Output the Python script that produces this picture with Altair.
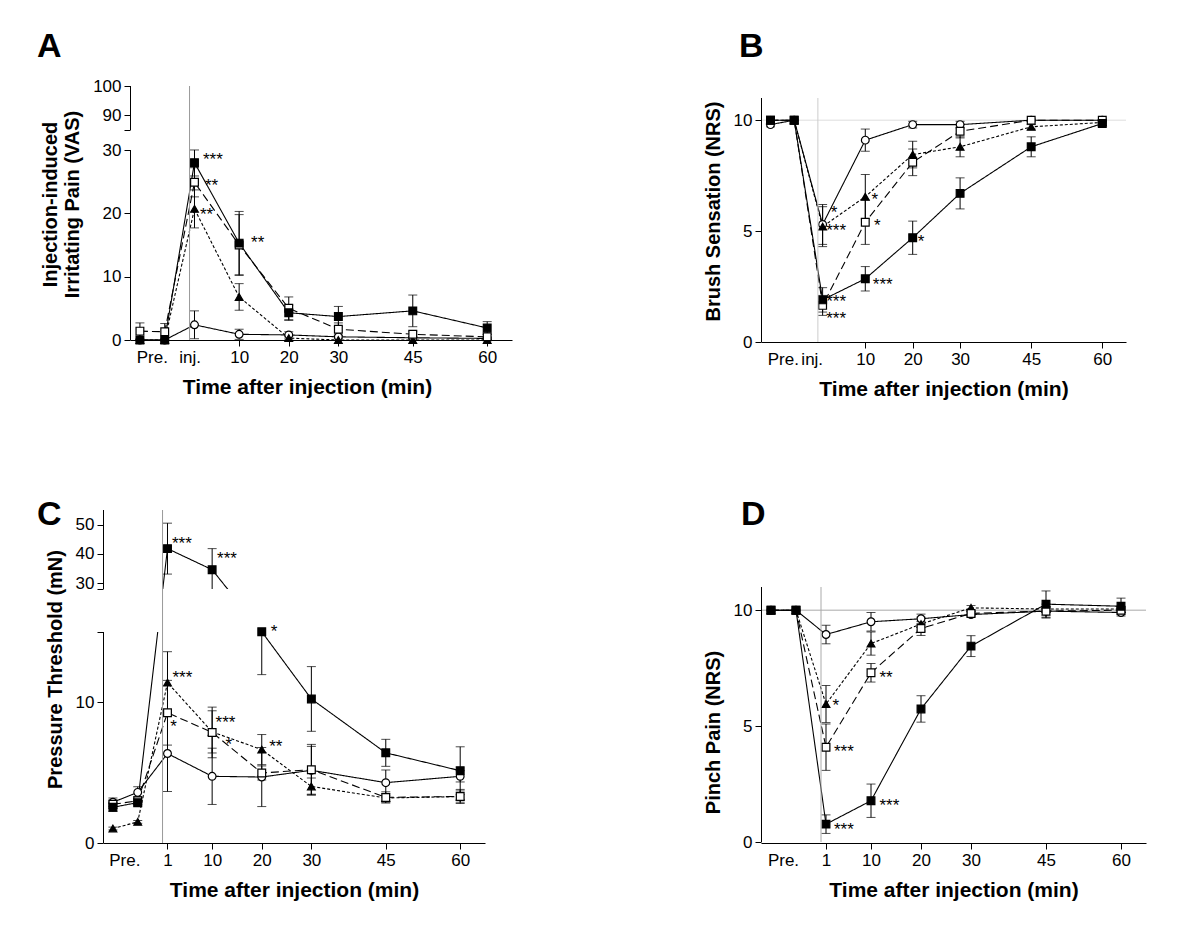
import altair as alt
import pandas as pd

TIMES = [-10, -5, 1, 10, 20, 30, 45, 60]
GROUPS = ["open circle", "filled triangle", "open square", "filled square"]
SHAPES = ["circle", "triangle-up", "square", "square"]
FILLS = ["white", "black", "white", "black"]
DASHES = [[1, 0], [3, 2], [8, 4], [1, 0]]

# ---------------- Panel A : injection-induced irritating pain (VAS)
A_CIRCLE = [0, 0, 2.4, 0.9, 0.8, 0.5, 0.35, 0.25]
A_CIRCLE_ERR = [0, 0, 2.2, 0.8, 0.5, 0.3, 0.2, 0.2]
A_TRIANGLE = [0, 0, 20.7, 6.8, 0.3, 0, 0, 0]
A_TRIANGLE_ERR = [0, 0, 3.0, 2.1, 0.3, 0, 0, 0]
A_OPEN_SQ = [1.4, 1.3, 24.9, 15.0, 5.0, 1.7, 0.9, 0.5]
A_OPEN_SQ_ERR = [1.3, 1.3, 2.3, 4.8, 1.8, 1.0, 0.5, 0.4]
A_FILLED_SQ = [0, 0, 28.0, 15.3, 4.3, 3.7, 4.6, 1.9]
A_FILLED_SQ_ERR = [0, 0, 2.1, 5.0, 1.2, 1.6, 2.5, 1.0]
A_STAR_T = [2.7, 3.1, 2.1, 12.4]
A_STAR_V = [29.05, 25.0, 20.3, 15.9]
A_STAR_TXT = ["***", "**", "**", "**"]

# ---------------- Panel B : brush sensation (NRS)
B_CIRCLE = [9.8, 10, 5.3, 9.1, 9.8, 9.8, 10, 10]
B_CIRCLE_ERR = [0.1, 0, 0.9, 0.5, 0.15, 0.15, 0, 0]
B_TRIANGLE = [10, 10, 5.2, 6.55, 8.45, 8.8, 9.7, 9.9]
B_TRIANGLE_ERR = [0, 0, 0.9, 1.0, 0.6, 0.45, 0.1, 0]
B_OPEN_SQ = [10, 10, 1.65, 5.4, 8.1, 9.5, 10, 10]
B_OPEN_SQ_ERR = [0, 0, 0.45, 1.0, 0.6, 0.3, 0, 0]
B_FILLED_SQ = [10, 10, 1.9, 2.85, 4.7, 6.7, 8.8, 9.85]
B_FILLED_SQ_ERR = [0, 0, 0.55, 0.55, 0.75, 0.7, 0.45, 0.1]
B_STAR_T = [2.7, 1.75, 1.75, 1.75, 11.3, 11.85, 21.05, 11.6]
B_STAR_V = [6.0, 5.2, 2.0, 1.2, 6.6, 5.4, 4.67, 2.77]
B_STAR_TXT = ["*", "***", "***", "***", "*", "*", "*", "***"]

# ---------------- Panel C : pressure threshold (mN)
C_CIRCLE = [2.9, 3.6, 6.36, 4.74, 4.69, 5.17, 4.29, 4.74]
C_CIRCLE_ERR = [0.3, 0.4, 2.7, 2.0, 2.1, 1.7, 0.9, 0.4]
C_TRIANGLE = [1.03, 1.5, 11.4, 7.9, 6.64, 4.02, 3.2, 3.3]
C_TRIANGLE_ERR = [0.1, 0.1, 2.2, 1.5, 1.07, 0.6, 0.3, 0.4]
C_OPEN_SQ = [2.75, 3.0, 9.26, 7.86, 4.98, 5.21, 3.24, 3.31]
C_OPEN_SQ_ERR = [0.3, 0.3, 2.3, 1.8, 0.5, 1.8, 0.4, 0.5]
C_FILLED_SQ = [2.54, 2.87, 41.8, 34.6, 15.07, 10.24, 6.41, 5.14]
C_FILLED_SQ_ERR = [0.3, 0.3, 8.7, 7.2, 3.1, 2.3, 0.96, 1.7]
C_STAR_T = [1.9, 11.0, 21.8, 2.0, 1.55, 10.7, 12.7, 21.5]
C_STAR_V = [44.8, 39.7, 16.2, 12.0, 8.5, 8.8, 7.24, 7.12]
C_STAR_TXT = ["***", "***", "*", "***", "*", "***", "*", "**"]

# ---------------- Panel D : pinch pain (NRS)
D_CIRCLE = [10, 10, 8.95, 9.5, 9.63, 9.81, 9.96, 9.9]
D_CIRCLE_ERR = [0, 0, 0.4, 0.4, 0.2, 0.1, 0.3, 0.15]
D_TRIANGLE = [10, 10, 5.95, 8.56, 9.4, 10.1, 10.05, 10.05]
D_TRIANGLE_ERR = [0, 0, 0.8, 0.5, 0.3, 0.1, 0.1, 0.1]
D_OPEN_SQ = [10, 10, 4.09, 7.3, 9.21, 9.86, 9.96, 10.0]
D_OPEN_SQ_ERR = [0, 0, 1.0, 0.4, 0.3, 0.1, 0.2, 0.1]
D_FILLED_SQ = [10, 10, 0.77, 1.78, 5.74, 8.45, 10.26, 10.17]
D_FILLED_SQ_ERR = [0, 0, 0.4, 0.72, 0.57, 0.45, 0.57, 0.35]
D_STAR_T = [2.3, 2.6, 2.6, 11.7, 11.7]
D_STAR_V = [6.05, 4.07, 0.7, 7.24, 1.71]
D_STAR_TXT = ["*", "***", "***", "**", "***"]

X_TITLE = "Time after injection (min)"
FONT = "Liberation Sans"


def series_frame(values, errors):
    rows = []
    for g, vals, errs in zip(GROUPS, values, errors):
        for t, v, e in zip(TIMES, vals, errs):
            rows.append({"group": g, "gi": GROUPS.index(g), "t": t, "v": v, "e": e,
                         "lo": v - e, "hi": v + e})
    return pd.DataFrame(rows)


def build_panel(df, stars, plot_width, height, y_domain, y_range, y_ticks, y_hidden,
                y_title, y_title_y, x_ticks, segments, letter, letter_xy,
                vline_top, vline_color, hline_color=None, gap=None, x_title_x=None,
                x_shift=0):
    width = plot_width + x_shift
    x_scale = alt.Scale(domain=[-12, 65], range=[x_shift, width], nice=False, zero=False)
    y_scale = alt.Scale(domain=y_domain, range=y_range, nice=False, zero=False)
    hidden_test = " || ".join(f"datum.value == {h}" for h in y_hidden) if y_hidden else "false"
    x_kw = dict(
        values=x_ticks,
        labelExpr="datum.value < -5 ? 'Pre.' : (datum.value < 1 ? 'inj.' : datum.label)",
        title=X_TITLE, titleFontSize=21, titleFontWeight="bold", titleColor="black",
        labelFontSize=17, labelColor="black", labelPadding=3, titlePadding=11,
        tickSize=6, tickColor={"condition": {"test": "datum.value < 1", "value": "transparent"},
                               "value": "black"},
        domainColor="black", grid=False, labelFlush=False, labelOverlap=False,
    )
    if x_title_x is not None:
        x_kw["titleX"] = x_title_x
    x_axis = alt.Axis(**x_kw)
    y_kw = dict(
        values=y_ticks, labelExpr=f"({hidden_test}) ? '' : datum.label",
        domain=False, title=y_title, titleFontSize=20, titleFontWeight="bold",
        titleColor="black", titleY=y_title_y, labelFontSize=17, labelColor="black",
        labelPadding=3, titlePadding=10, tickSize=6, tickColor="black",
        grid=False, labelFlush=False, labelOverlap=False,
    )
    if x_shift:
        y_kw["offset"] = -x_shift
    y_axis = alt.Axis(**y_kw)

    def X(field):
        return alt.X(field, type="quantitative", scale=x_scale, axis=x_axis)

    def Y(field):
        return alt.Y(field, type="quantitative", scale=y_scale, axis=y_axis)

    base = alt.Chart(df)
    layers = []

    if hline_color is not None:
        hdf = pd.DataFrame({"x0": [-12], "x1": [65], "v": [10]})
        layers.append(alt.Chart(hdf).mark_rule(color=hline_color, strokeWidth=1).encode(
            x=X("x0"), x2="x1", y=Y("v")))

    lines = base.mark_line(color="black", strokeWidth=1.1).encode(
        x=X("t"), y=Y("v"),
        strokeDash=alt.StrokeDash("group:N", scale=alt.Scale(domain=GROUPS, range=DASHES), legend=None),
        detail="group:N",
    )
    layers.append(lines)

    err = base.transform_filter("datum.e > 0")
    layers.append(err.mark_rule(color="black", strokeWidth=1).encode(x=X("t"), y=Y("lo"), y2="hi"))
    layers.append(err.mark_tick(orient="horizontal", color="black", size=9, thickness=1).encode(x=X("t"), y=Y("lo")))
    layers.append(err.mark_tick(orient="horizontal", color="black", size=9, thickness=1).encode(x=X("t"), y=Y("hi")))

    if gap is not None:
        gdf = pd.DataFrame({"lo": [gap[0]], "hi": [gap[1]]})
        layers.append(alt.Chart(gdf).mark_rect(color="white", opacity=1).encode(
            x=alt.value(x_shift + 1), x2=alt.value(width), y=Y("lo"), y2="hi"))

    points = base.mark_point(filled=True, stroke="black", strokeWidth=1.2, opacity=1, size=60).encode(
        x=X("t"), y=Y("v"),
        shape=alt.Shape("group:N", scale=alt.Scale(domain=GROUPS, range=SHAPES), legend=None),
        fill=alt.Fill("group:N", scale=alt.Scale(domain=GROUPS, range=FILLS), legend=None),
        order=alt.Order("gi:Q"),
    )
    layers.append(points)

    vdf = pd.DataFrame({"t": [0], "lo": [0], "hi": [vline_top]})
    layers.append(alt.Chart(vdf).mark_rule(color=vline_color, strokeWidth=1).encode(
        x=X("t"), y=Y("lo"), y2="hi"))

    sdf = pd.DataFrame({"lo": [s[0] for s in segments], "hi": [s[1] for s in segments]})
    layers.append(alt.Chart(sdf).mark_rule(color="black", strokeWidth=1).encode(
        x=alt.value(x_shift + 0.5), y=Y("lo"), y2="hi"))

    star_df = pd.DataFrame({"t": stars[0], "v": stars[1], "txt": stars[2]})
    layers.append(alt.Chart(star_df).mark_text(
        align="left", baseline="alphabetic", dy=9, fontSize=17, font=FONT, color="black"
    ).encode(x=X("t"), y=Y("v"), text="txt:N"))

    ldf = pd.DataFrame({"label": [letter]})
    layers.append(alt.Chart(ldf).mark_text(
        align="left", baseline="alphabetic", fontSize=34, fontWeight="bold", font=FONT, color="black"
    ).encode(x=alt.value(letter_xy[0]), y=alt.value(letter_xy[1]), text="label:N"))

    return alt.layer(*layers).properties(width=width, height=height)


panel_a = build_panel(
    series_frame([A_CIRCLE, A_TRIANGLE, A_OPEN_SQ, A_FILLED_SQ],
                 [A_CIRCLE_ERR, A_TRIANGLE_ERR, A_OPEN_SQ_ERR, A_FILLED_SQ_ERR]),
    (A_STAR_T, A_STAR_V, A_STAR_TXT), 382, 254,
    [0, 30, 85, 100], [254, 64, 44, 0], [0, 10, 20, 30, 85, 90, 100], [85],
    ["Injection-induced", "Irritating Pain (VAS)"], 118,
    [-7.6, 0, 10, 20, 30, 45, 60], [(0, 30), (85, 100)], "A", (-66, -29),
    100, "#999999", x_title_x=204, x_shift=27,
)

panel_b = build_panel(
    series_frame([B_CIRCLE, B_TRIANGLE, B_OPEN_SQ, B_FILLED_SQ],
                 [B_CIRCLE_ERR, B_TRIANGLE_ERR, B_OPEN_SQ_ERR, B_FILLED_SQ_ERR]),
    (B_STAR_T, B_STAR_V, B_STAR_TXT), 365, 256,
    [0, 11], [256, 12], [0, 5, 10], [],
    "Brush Sensation (NRS)", 125,
    [-7.4, -1.3, 10, 20, 30, 45, 60], [(0, 11)], "B", (-22, -29),
    11, "#cccccc", hline_color="#dddddd",
)

panel_c = build_panel(
    series_frame([C_CIRCLE, C_TRIANGLE, C_OPEN_SQ, C_FILLED_SQ],
                 [C_CIRCLE_ERR, C_TRIANGLE_ERR, C_OPEN_SQ_ERR, C_FILLED_SQ_ERR]),
    (C_STAR_T, C_STAR_V, C_STAR_TXT), 382, 333,
    [0, 15, 28, 55], [333, 122, 79, 0], [0, 10, 15, 28, 30, 40, 50], [15, 28],
    "Pressure Threshold (mN)", 159,
    [-7.7, 1, 10, 20, 30, 45, 60], [(0, 15), (28, 55)], "C", (-66, 15),
    55, "#999999", gap=(15, 28),
)

panel_d = build_panel(
    series_frame([D_CIRCLE, D_TRIANGLE, D_OPEN_SQ, D_FILLED_SQ],
                 [D_CIRCLE_ERR, D_TRIANGLE_ERR, D_OPEN_SQ_ERR, D_FILLED_SQ_ERR]),
    (D_STAR_T, D_STAR_V, D_STAR_TXT), 385, 333,
    [0, 11], [332, 77], [0, 5, 10], [],
    "Pinch Pain (NRS)", 222,
    [-7.6, 1, 10, 20, 30, 45, 60], [(0, 11)], "D", (-20, 15),
    11, "#aaaaaa", hline_color="#aaaaaa",
)

chart = alt.vconcat(
    alt.hconcat(panel_a, panel_b, spacing=191),
    alt.hconcat(panel_c, panel_d, spacing=218),
    spacing=99,
).properties(
    padding={"left": 29, "top": 22, "right": 5, "bottom": 5},
).configure(font=FONT).configure_view(strokeWidth=0)

chart.save("out.html", embed_options={"renderer": "svg", "actions": False})
